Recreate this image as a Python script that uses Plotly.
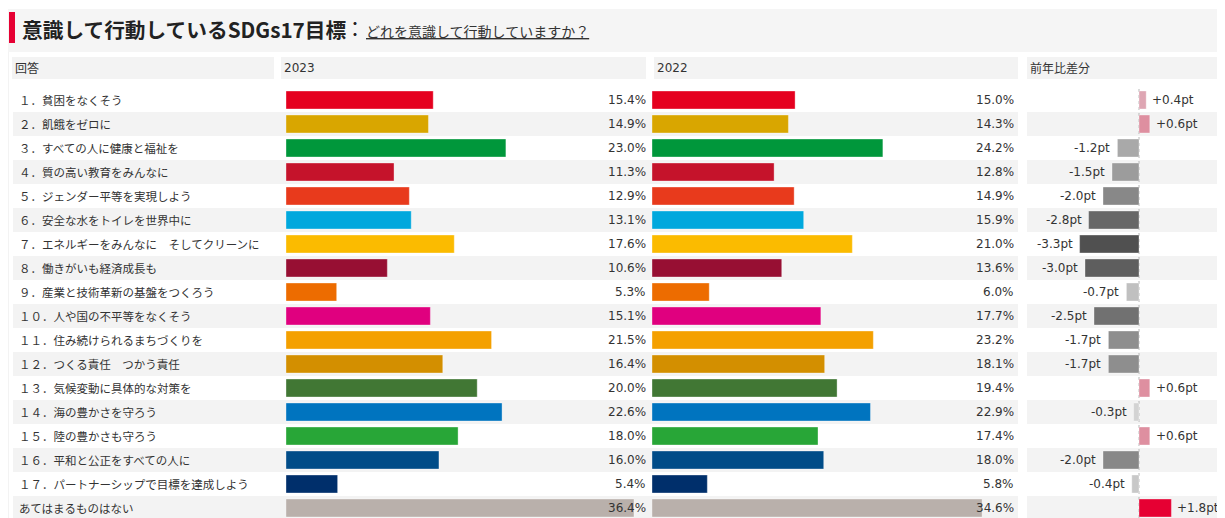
import plotly.graph_objects as go

# ── Data ────────────────────────────────────────────────────────────────────
labels = [
    "１．貧困をなくそう",
    "２．飢餓をゼロに",
    "３．すべての人に健康と福祉を",
    "４．質の高い教育をみんなに",
    "５．ジェンダー平等を実現しよう",
    "６．安全な水をトイレを世界中に",
    "７．エネルギーをみんなに　そしてクリーンに",
    "８．働きがいも経済成長も",
    "９．産業と技術革新の基盤をつくろう",
    "１０．人や国の不平等をなくそう",
    "１１．住み続けられるまちづくりを",
    "１２．つくる責任　つかう責任",
    "１３．気候変動に具体的な対策を",
    "１４．海の豊かさを守ろう",
    "１５．陸の豊かさも守ろう",
    "１６．平和と公正をすべての人に",
    "１７．パートナーシップで目標を達成しよう",
    "あてはまるものはない",
]
share_2023 = [15.4, 14.9, 23.0, 11.3, 12.9, 13.1, 17.6, 10.6, 5.3,
              15.1, 21.5, 16.4, 20.0, 22.6, 18.0, 16.0, 5.4, 36.4]
share_2022 = [15.0, 14.3, 24.2, 12.8, 14.9, 15.9, 21.0, 13.6, 6.0,
              17.7, 23.2, 18.1, 19.4, 22.9, 17.4, 18.0, 5.8, 34.6]
diff_pt = [0.4, 0.6, -1.2, -1.5, -2.0, -2.8, -3.3, -3.0, -0.7,
           -2.5, -1.7, -1.7, 0.6, -0.3, 0.6, -2.0, -0.4, 1.8]
headers = ["回答", "2023", "2022", "前年比差分"]

# ── Styles ──────────────────────────────────────────────────────────────────
goal_colors = ["#e5001f", "#d9a600", "#00973b", "#c5132b", "#e83a1c", "#00a8dd",
               "#fbbb00", "#970f33", "#ed6c00", "#e0007f", "#f4a000", "#d38f00",
               "#417734", "#0074bf", "#28a637", "#004c88", "#002f6b", "#b9b0ab"]
diff_colors = ["#dea6b3", "#de8fa0", "#a9a9a9", "#9c9c9c", "#888888", "#676767",
               "#505050", "#5e5e5e", "#c0c0c0", "#717171", "#8e8e8e", "#8e8e8e",
               "#de8fa0", "#d3d3d3", "#de8fa0", "#888888", "#c8c8c8", "#e60033"]

# the page body keeps its default 8px margin, so the figure starts at (8, 8)
OFF = 8
PAGE_W, PAGE_H = 1225, 518
W, H = PAGE_W - OFF, PAGE_H - OFF
JP = "Noto Sans CJK JP"
NUM = "DejaVu Sans, Noto Sans CJK JP"
TXT = "#333333"
BAND = "#f3f3f3"


def px(x):
    """page x pixel -> paper fraction"""
    return (x - OFF) / W


def py(y):
    """page y pixel -> paper fraction"""
    return 1 - (y - OFF) / H


n = len(labels)
# row i centred at page y = 100 + 24*i
y_top = -(100 - OFF) / 24
y_bot = y_top + H / 24

fig = go.Figure()

bar_common = dict(orientation="h", width=0.75, hoverinfo="skip", showlegend=False,
                  marker_line=dict(width=1, color="rgba(255,255,255,0.35)"))
fig.add_trace(go.Bar(x=share_2023, y=labels, xaxis="x", yaxis="y",
                     marker_color=goal_colors, **bar_common))
fig.add_trace(go.Bar(x=share_2022, y=labels, xaxis="x2", yaxis="y",
                     marker_color=goal_colors, **bar_common))
fig.add_trace(go.Bar(x=diff_pt, y=labels, xaxis="x3", yaxis="y",
                     marker_color=diff_colors, **bar_common))

shapes = []
annotations = []

# ── Title band ──────────────────────────────────────────────────────────────
shapes.append(dict(type="rect", xref="paper", yref="paper", x0=0, x1=1,
                   y0=py(52), y1=py(9), fillcolor="#f5f5f5", line_width=0, layer="below"))
shapes.append(dict(type="rect", xref="paper", yref="paper", x0=px(9), x1=px(15),
                   y0=py(43), y1=py(12), fillcolor="#e60033", line_width=0, layer="below"))
shapes.append(dict(type="line", xref="paper", yref="paper", x0=0, x1=0,
                   y0=0, y1=py(52), line=dict(color="#e8e8e8", width=1), layer="below"))
annotations.append(dict(text="<b>意識して行動しているSDGs17目標</b>", xref="paper", yref="paper",
                        x=px(20), y=py(29), xanchor="left", yanchor="middle", showarrow=False,
                        font=dict(family=JP, size=20.7, color="#222222")))
annotations.append(dict(text="：", xref="paper", yref="paper",
                        x=px(355), y=py(29), xanchor="center", yanchor="middle", showarrow=False,
                        font=dict(family=JP, size=20, color="#222222")))
annotations.append(dict(text="どれを意識して行動していますか？", xref="paper", yref="paper",
                        x=px(364), y=py(31), xanchor="left", yanchor="middle", showarrow=False,
                        font=dict(family=JP, size=14, color="#333333", lineposition="under")))

# ── Header cells ────────────────────────────────────────────────────────────
cells = [(12, 274), (281, 646), (654, 1018), (1027, PAGE_W)]
for (c0, c1), h in zip(cells, headers):
    shapes.append(dict(type="rect", xref="paper", yref="paper", x0=px(c0), x1=px(c1),
                       y0=py(79), y1=py(57), fillcolor=BAND, line_width=0, layer="below"))
    annotations.append(dict(text=h, xref="paper", yref="paper", x=px(c0 + 1), y=py(68),
                            xanchor="left", yanchor="middle", showarrow=False,
                            font=dict(family=NUM, size=12, color=TXT)))

# ── Row bands ───────────────────────────────────────────────────────────────
for i in range(1, n, 2):
    for c0, c1 in [(13, 1018), (1027, PAGE_W)]:
        shapes.append(dict(type="rect", xref="paper", yref="y", x0=px(c0), x1=px(c1),
                           y0=i - 0.5, y1=i + 0.5, fillcolor=BAND, line_width=0, layer="below"))

# zero line for the difference column
shapes.append(dict(type="line", xref="x3", yref="paper", x0=0, x1=0, y0=0, y1=py(88),
                   line=dict(color="#b5b5b5", width=1, dash="dot"), layer="below"))

# ── Row texts ───────────────────────────────────────────────────────────────
for lab, v23, v22, d in zip(labels, share_2023, share_2022, diff_pt):
    annotations.append(dict(text=lab, xref="paper", yref="y", x=px(17), y=lab,
                            xanchor="left", yanchor="middle", showarrow=False,
                            font=dict(family=JP, size=11.5, color=TXT)))
    annotations.append(dict(text=f"{v23:.1f}%", xref="x domain", yref="y", x=1, y=lab,
                            xanchor="right", yanchor="middle", showarrow=False,
                            font=dict(family=NUM, size=12, color=TXT)))
    annotations.append(dict(text=f"{v22:.1f}%", xref="x2 domain", yref="y", x=1, y=lab,
                            xanchor="right", yanchor="middle", showarrow=False,
                            font=dict(family=NUM, size=12, color=TXT)))
    annotations.append(dict(text=f"{d:+.1f}pt", xref="x3", yref="y", x=d, y=lab,
                            xanchor="left" if d > 0 else "right", xshift=4 if d > 0 else -5,
                            yanchor="middle", showarrow=False,
                            font=dict(family=NUM, size=12, color=TXT)))

# ── Layout ──────────────────────────────────────────────────────────────────
ax_off = dict(visible=False, showgrid=False, zeroline=False, fixedrange=True)
fig.update_layout(
    width=W, height=H,
    margin=dict(l=0, r=0, t=0, b=0),
    paper_bgcolor="white",
    plot_bgcolor="rgba(0,0,0,0)",
    barmode="overlay",
    xaxis=dict(domain=[px(286), px(648)], range=[0, 362 / 9.56], anchor="y", **ax_off),
    xaxis2=dict(domain=[px(652), px(1016)], range=[0, 364 / 9.54], anchor="y", **ax_off),
    xaxis3=dict(domain=[px(1027), 1], range=[-112 / 18, 86 / 18], anchor="y", **ax_off),
    yaxis=dict(domain=[0, 1], type="category", categoryorder="array", categoryarray=labels,
               range=[y_bot, y_top], **ax_off),
    shapes=shapes,
    annotations=annotations,
)

fig.write_html("out.html")
